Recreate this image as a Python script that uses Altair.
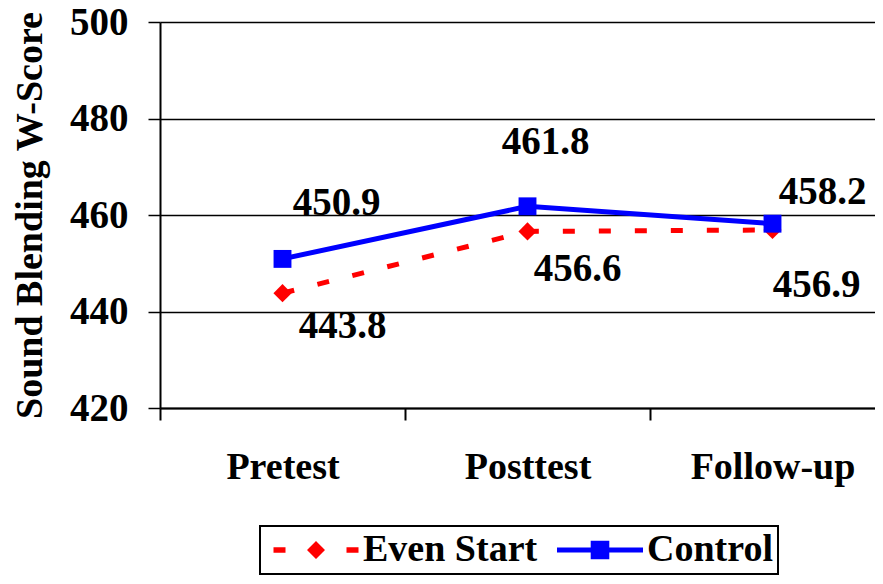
import altair as alt
import pandas as pd

# ---- data ----
categories = ["Pretest", "Posttest", "Follow-up"]
series = ["Even Start", "Control"]
even_start = [443.8, 456.6, 456.9]
control = [450.9, 461.8, 458.2]
y_ticks = [420, 440, 460, 480, 500]

rows = []
for s, vals in zip(series, [even_start, control]):
    for c, v in zip(categories, vals):
        rows.append({"Group": s, "Time": c, "Score": v})
df = pd.DataFrame(rows)

FONT = "Liberation Serif"
RED = "#FF0000"
BLUE = "#0000FF"

# legend symbols: line segment(s) + marker, drawn as one custom path
PATH_ES = ("M-4.25,-0.28H-3.05V0.28H-4.25Z "
           "M0,-0.9L0.9,0L0,0.9L-0.9,0Z "
           "M3.05,-0.28H4.25V0.28H3.05Z")
PATH_CTRL = ("M-4.3,-0.25H4.3V0.25H-4.3Z "
             "M-0.93,-0.93H0.93V0.93H-0.93Z")

x_enc = alt.X(
    "Time:N",
    sort=categories,
    scale=alt.Scale(domain=categories, range=[0, 735], paddingInner=0, paddingOuter=0),
    axis=alt.Axis(
        title=None, labelFont=FONT, labelFontSize=38, labelFontWeight="bold",
        labelColor="black", labelAngle=0, labelPadding=28,
        tickBand="extent", tickSize=12, tickColor="black", tickWidth=2,
        domainColor="black", domainWidth=2, grid=False,
    ),
)
y_enc = alt.Y(
    "Score:Q",
    scale=alt.Scale(domain=[420, 500], nice=False, zero=False),
    axis=alt.Axis(
        values=y_ticks, title="Sound Blending W-Score",
        titleFont=FONT, titleFontSize=38, titleFontWeight="bold", titleColor="black",
        titlePadding=20,
        labelFont=FONT, labelFontSize=39, labelFontWeight="bold", labelColor="black",
        labelPadding=20, tickSize=12, tickColor="black", tickWidth=1.5,
        grid=True, gridColor="black", gridWidth=1.5, gridOpacity=1,
        domainColor="black", domainWidth=2,
    ),
)

base = alt.Chart(df).encode(x=x_enc, y=y_enc)

even = base.transform_filter(alt.datum.Group == "Even Start")
ctrl = base.transform_filter(alt.datum.Group == "Control")

even_line = even.mark_line(color=RED, strokeWidth=5, strokeDash=[12, 24], strokeCap="butt")
even_pts = even.mark_point(shape="diamond", filled=True, size=330, opacity=1, color=RED)
ctrl_line = ctrl.mark_line(color=BLUE, strokeWidth=5)
ctrl_pts = ctrl.mark_square(size=320, opacity=1, color=BLUE)

# data labels: placement offsets (style) per point
offsets = {
    ("Control", "Pretest"): (54, -56),
    ("Control", "Posttest"): (18, -64),
    ("Control", "Follow-up"): (50, -32),
    ("Even Start", "Pretest"): (60, 33),
    ("Even Start", "Posttest"): (50, 38),
    ("Even Start", "Follow-up"): (44, 55),
}
labels = []
for (g, t), (dx, dy) in offsets.items():
    labels.append(
        base.transform_filter((alt.datum.Group == g) & (alt.datum.Time == t))
        .mark_text(dx=dx, dy=dy, font=FONT, fontSize=39, fontWeight="bold",
                   color="black", align="center", baseline="middle")
        .encode(text=alt.Text("Score:Q", format=".1f"))
    )

legend_layer = base.mark_point(filled=True, opacity=0, size=400).encode(
    color=alt.Color("Group:N", scale=alt.Scale(domain=series, range=[RED, BLUE]), title=None,
                    legend=alt.Legend(symbolOpacity=1)),
    shape=alt.Shape("Group:N", scale=alt.Scale(domain=series, range=[PATH_ES, PATH_CTRL]), title=None,
                    legend=alt.Legend(symbolOpacity=1)),
)

layered = (
    alt.layer(even_line, even_pts, ctrl_line, ctrl_pts, *labels, legend_layer)
    .properties(
        width=715, height=386,
        autosize=alt.AutoSizeParams(type="none"),
        padding={"left": 152, "top": 14, "right": 0, "bottom": 168},
    )
    .configure_view(stroke=None)
)

legend_opts = dict(
    orient="none", legendX=100, legendY=504, direction="horizontal",
    strokeColor="black", padding=5, symbolSize=400, symbolOffset=32,
    labelOffset=28, columnPadding=11, labelFont=FONT, labelFontSize=38,
    labelFontWeight="bold", labelColor="black", labelLimit=400,
    symbolStrokeWidth=0, symbolOpacity=1,
)

try:
    chart = layered.configure_legend(strokeWidth=2, **legend_opts)
    chart.to_dict()
except Exception:
    chart = layered.configure_legend(**legend_opts)

chart.save("out.html", embed_options={"renderer": "svg", "actions": False})
